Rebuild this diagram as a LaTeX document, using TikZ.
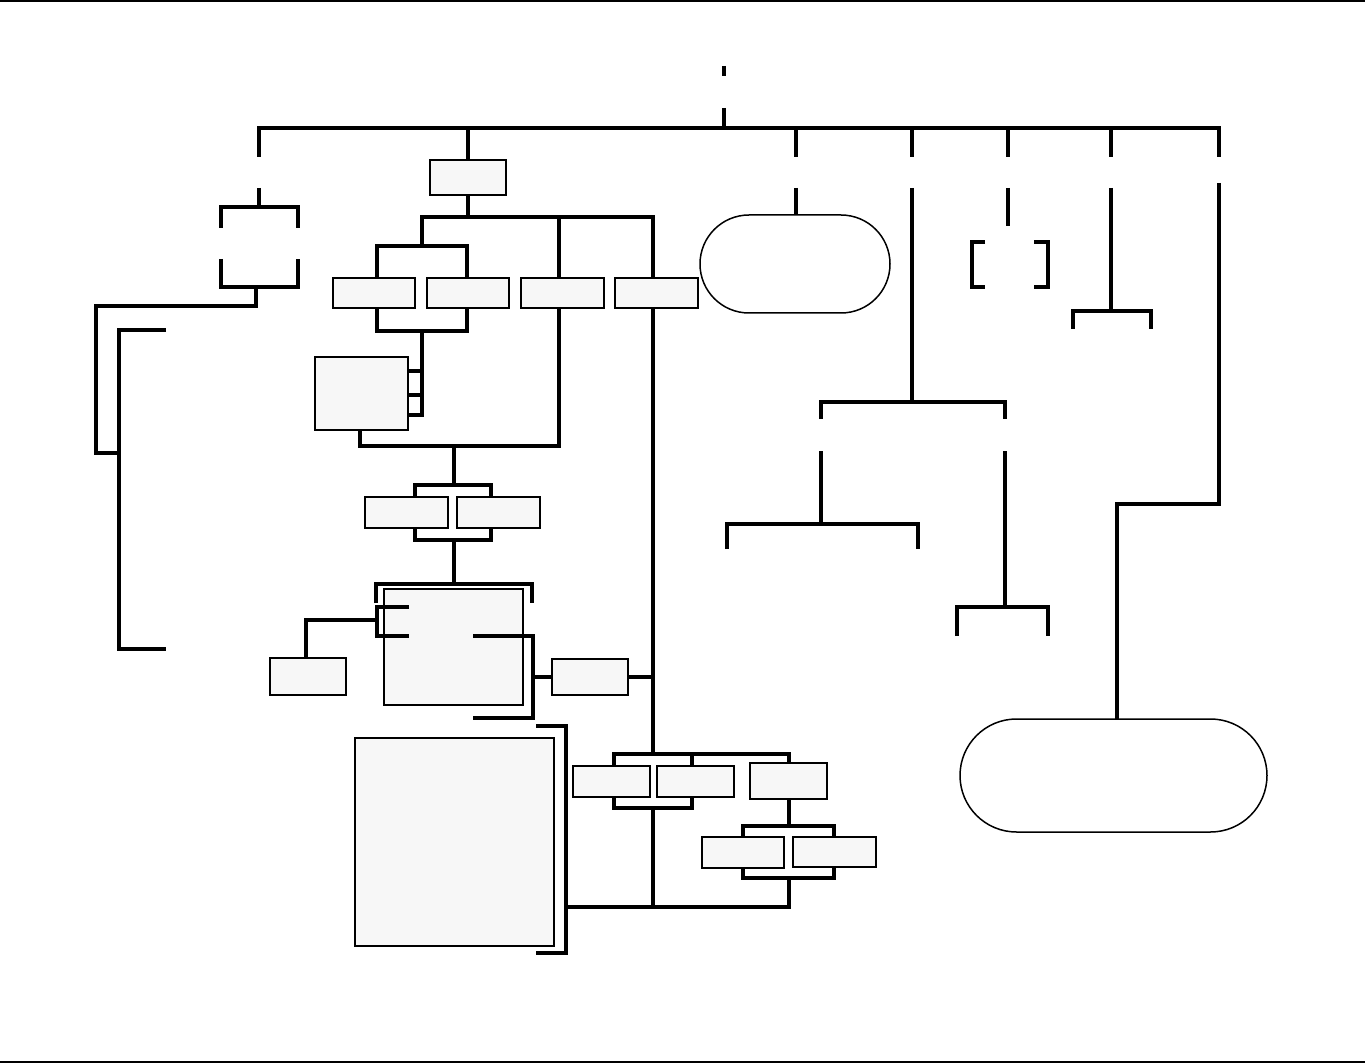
\documentclass[tikz,border=0pt]{standalone}
\usetikzlibrary{fit,shapes.misc}
\definecolor{boxfill}{HTML}{F7F7F7}
\tikzset{
  conn/.style={line width=3.4pt, line join=miter, line cap=butt},
  boxnode/.style={draw, line width=1.3pt, fill=boxfill, inner sep=0pt, outer sep=0pt},
  pill/.style={draw, line width=1.5pt, fill=white, rounded rectangle, inner sep=0pt, outer sep=0pt},
  rule/.style={line width=1.5pt}
}
\begin{document}
\begin{tikzpicture}[x=1pt,y=-1pt]
\useasboundingbox (0,0) rectangle (1365,1064);
\fill[white] (0,0) rectangle (1365,1064);
\draw[rule] (0,1) -- (1365,1);
\draw[rule] (0,1062) -- (1365,1062);

% ---------- boxes ----------
\node[boxnode, fit={(430,160) (506,195)}] (top) {};
\node[boxnode, fit={(333,278) (415,308)}] (r1) {};
\node[boxnode, fit={(427,278) (509,308)}] (r2) {};
\node[boxnode, fit={(521,278) (604,308)}] (r3) {};
\node[boxnode, fit={(615,278) (698,308)}] (r4) {};
\node[boxnode, fit={(315,357) (408,430)}] (mid) {};
\node[boxnode, fit={(365,497) (448,528)}] (p1) {};
\node[boxnode, fit={(457,497) (540,528)}] (p2) {};
\node[boxnode, fit={(384,589) (523,705)}] (big) {};
\node[boxnode, fit={(270,658) (346,695)}] (lft) {};
\node[boxnode, fit={(552,659) (628,695)}] (rgt) {};
\node[boxnode, fit={(355,738) (554,946)}] (huge) {};
\node[boxnode, fit={(573,766) (650,797)}] (q1) {};
\node[boxnode, fit={(657,766) (734,797)}] (q2) {};
\node[boxnode, fit={(750,763) (827,799)}] (q3) {};
\node[boxnode, fit={(702,837) (784,868)}] (s1) {};
\node[boxnode, fit={(793,837) (876,867)}] (s2) {};
\node[pill, minimum width=190pt, minimum height=98pt] (e1) at (795,264) {};
\node[pill, minimum width=307pt, minimum height=113pt] (e2) at (1113.5,775.5) {};

% ---------- top bus ----------
\draw[conn] (724,66) -- (724,76);
\draw[conn] (724,108) -- (724,128);
\draw[conn] (259,157) -- (259,128) -- (1219,128) -- (1219,157);
\draw[conn] (468,128) -- (top.north);
\draw[conn] (796,128) -- (796,157);
\draw[conn] (912,128) -- (912,157);
\draw[conn] (1008,128) -- (1008,157);
\draw[conn] (1111,128) -- (1111,157);

% ---------- left branch ----------
\draw[conn] (259,188) -- (259,207);
\draw[conn] (221,228) -- (221,207) -- (298,207) -- (298,228);
\draw[conn] (221,259) -- (221,287) -- (298,287) -- (298,259);
\draw[conn] (256,287) -- (256,306) -- (96,306) -- (96,453) -- (119,453);
\draw[conn] (166,330) -- (119,330) -- (119,649) -- (166,649);

% ---------- middle branch ----------
\draw[conn] (top.south) -- (468,217);
\draw[conn] (422,246) -- (422,217) -- (653,217) -- (653,278);
\draw[conn] (559,217) -- (559,278);
\draw[conn] (377,278) -- (377,246) -- (467,246) -- (467,278);
\draw[conn] (377,308) -- (377,331) -- (467,331) -- (467,308);
\draw[conn] (422,331) -- (422,415) -- (408,415);
\draw[conn] (408,371) -- (422,371);
\draw[conn] (408,395) -- (422,395);
\draw[conn] (360,430) -- (360,446) -- (559,446) -- (559,308);
\draw[conn] (454,446) -- (454,485);
\draw[conn] (415,497) -- (415,485) -- (491,485) -- (491,497);
\draw[conn] (415,528) -- (415,540) -- (491,540) -- (491,528);
\draw[conn] (454,540) -- (454,584);
\draw[conn] (376,603) -- (376,584) -- (532,584) -- (532,603);
\draw[conn] (409,607) -- (377,607) -- (377,636) -- (409,636);
\draw[conn] (377,620) -- (306,620) -- (lft.north -| 306,0);
\draw[conn] (473,636) -- (533,636) -- (533,718) -- (473,718);
\draw[conn] (533,677) -- (rgt.west);
\draw[conn] (rgt.east) -- (653,677);
\draw[conn] (536,726) -- (566,726) -- (566,953) -- (536,953);
\draw[conn] (566,907) -- (789,907) -- (789,878);
\draw[conn] (653,308) -- (653,754);
\draw[conn] (653,808) -- (653,907);
\draw[conn] (614,766) -- (614,754) -- (789,754) -- (789,763);
\draw[conn] (692,754) -- (692,766);
\draw[conn] (614,797) -- (614,808) -- (692,808) -- (692,797);
\draw[conn] (789,799) -- (789,826);
\draw[conn] (743,837) -- (743,826) -- (834,826) -- (834,837);
\draw[conn] (743,868) -- (743,878) -- (834,878) -- (834,867);

% ---------- right branches ----------
\draw[conn] (796,188) -- (e1.north -| 796,0);
\draw[conn] (912,188) -- (912,402);
\draw[conn] (821,419) -- (821,402) -- (1005,402) -- (1005,419);
\draw[conn] (821,451) -- (821,524);
\draw[conn] (727,549) -- (727,524) -- (918,524) -- (918,549);
\draw[conn] (1005,451) -- (1005,607);
\draw[conn] (957,636) -- (957,607) -- (1048,607) -- (1048,636);
\draw[conn] (1008,188) -- (1008,226);
\draw[conn] (985,242) -- (972,242) -- (972,287) -- (985,287);
\draw[conn] (1034,242) -- (1048,242) -- (1048,287) -- (1034,287);
\draw[conn] (1111,188) -- (1111,311);
\draw[conn] (1073,329) -- (1073,311) -- (1151,311) -- (1151,329);
\draw[conn] (1219,183) -- (1219,504) -- (1117,504) -- (e2.north -| 1117,0);
\end{tikzpicture}
\end{document}
